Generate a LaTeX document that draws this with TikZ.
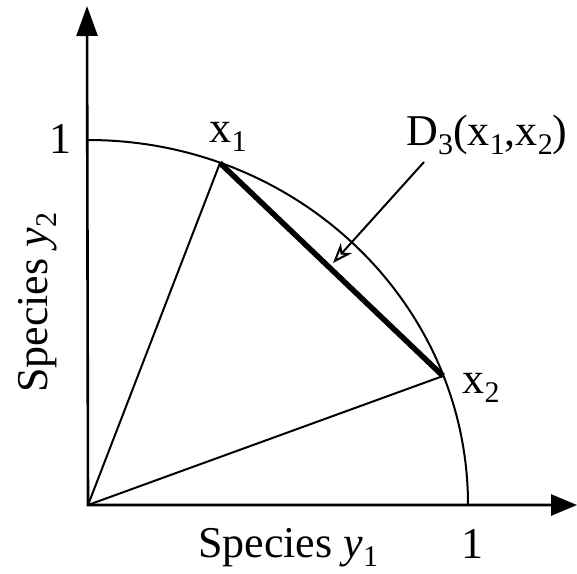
\documentclass[tikz,border=0pt]{standalone}
\usepackage{fontspec}
\setmainfont{Liberation Serif}
\usetikzlibrary{arrows.meta}
\newcommand\lowsub[1]{\raisebox{-0.22em}{\fontsize{30}{30}\selectfont #1}}
\begin{document}
\begin{tikzpicture}[x=1pt,y=-1pt,
  lbl/.style={font=\fontsize{44}{50}\selectfont, inner sep=0pt},
  axisline/.style={line width=2.6pt, {Triangle[length=30pt,width=21pt]}-{Triangle[length=26pt,width=21pt]}},
  chord/.style={line width=2pt},
  arcline/.style={line width=2pt},
  heavy/.style={line width=5.5pt},
  pointer/.style={line width=2pt, -{Stealth[open,length=20pt,width=15pt,inset=6pt]}}
]
\useasboundingbox (0,0) rectangle (577,573);
\coordinate (O) at (88,505);
\coordinate (ytip) at (87,6);
\coordinate (xtip) at (577,505);
\coordinate (P1) at (220,163);
\coordinate (P2) at (443,376);
\coordinate (Dstart) at (424,162);
\coordinate (Dend) at (333,263);
% arc
\draw[arcline] (468,505) arc[start angle=0, end angle=-90, x radius=380, y radius=365];
% chords
\draw[chord] (O) -- (P1);
\draw[chord] (O) -- (P2);
\draw[heavy] (P1) -- (P2);
% axes
\draw[axisline] (ytip) -- (O) -- (xtip);
% pointer
\draw[pointer] (Dstart) -- (Dend);
% labels
\node[lbl, anchor=base] (one1) at (60,153) {1};
\node[lbl, anchor=base] (one2) at (472,558) {1};
\node[lbl, anchor=base] (lx1) at (228,142) {x\lowsub{1}};
\node[lbl, anchor=base] (lx2) at (481,393) {x\lowsub{2}};
\node[lbl, anchor=base] (lD) at (487,145) {D\lowsub{3}(x\lowsub{1},x\lowsub{2})};
\node[lbl, anchor=base west] (ly1) at (198,557) {Species \textit{y}\lowsub{1}};
\node[lbl, anchor=base west, rotate=90] (ly2) at (47,393) {Species \textit{y}\lowsub{2}};
\end{tikzpicture}
\end{document}
